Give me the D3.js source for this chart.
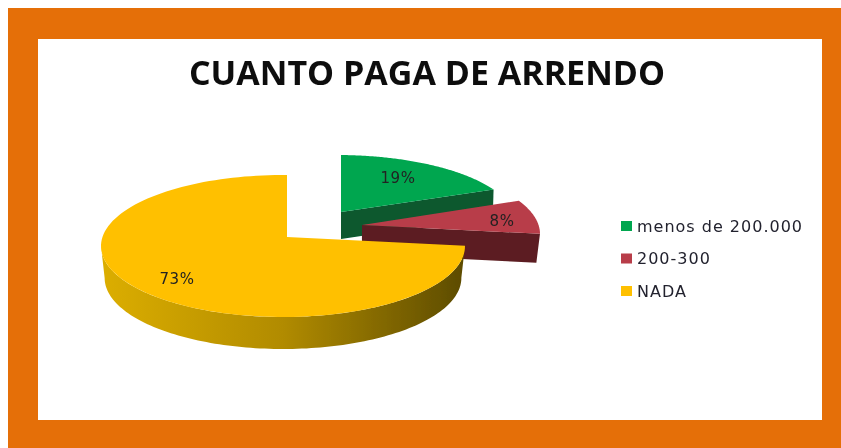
<!DOCTYPE html>
<html><head><meta charset="utf-8">
<script src="https://cdn.jsdelivr.net/npm/d3@7/dist/d3.min.js"></script>
<style>html,body{margin:0;padding:0;background:#fff;overflow:hidden}svg{display:block}</style>
</head><body><svg id="c" width="841" height="448"></svg>
<script>
const titleText = "CUANTO PAGA DE ARRENDO";
const categories = ["menos de 200.000", "200-300", "NADA"];
const values = [19, 8, 73];
const labels = ["19%", "8%", "73%"];
const topColors = ["#00a650", "#b83c48", "#ffc000"];
const sideColors = ["#07592f", "#5c1d20", "url(#goldSide)"];

const svg = d3.select("#c");
const defs = svg.append("defs");
defs.append("filter").attr("id","soft").append("feGaussianBlur").attr("stdDeviation",0.55);
const g0 = defs.append("linearGradient").attr("id","goldSide").attr("gradientUnits","userSpaceOnUse")
  .attr("x1",101).attr("x2",465).attr("y1",0).attr("y2",0);
[[0,"#dcae00"],[0.5,"#b18b00"],[1,"#5c4b00"]].forEach(([o,c])=>g0.append("stop").attr("offset",o).attr("stop-color",c));

// frame
svg.append("rect").attr("x",8).attr("y",8).attr("width",833).attr("height",440).attr("fill","#e56f08");
svg.append("rect").attr("x",38).attr("y",39).attr("width",784).attr("height",381).attr("fill","#fff");

const root = svg.append("g").attr("filter","url(#soft)");

root.append("text").text(titleText).attr("x",427).attr("y",85).attr("text-anchor","middle")
  .attr("font-family","'Open Sans','Liberation Sans',sans-serif").attr("font-weight",700)
  .attr("font-size",34).attr("fill","#111");

// per-slice placement of the exploded 3D pie: ellipse centre, wedge apex, radii, extrusion, inward lean
const place = [
  {cx:337, cy:221, ax:341, ay:212, rx:178, ry:66, d:27, lean:0.995, lx:398, ly:183},
  {cx:358, cy:234, ax:362, ay:225, rx:182, ry:71, d:29, lean:0.98, lx:502, ly:226},
  {cx:283, cy:246, ax:287, ay:237, rx:182, ry:71, d:32, lean:0.98, lx:177, ly:284}
];
const arcs = d3.pie().sort(null)(values);
const line = d3.line();

// intersect the perspective ray from the apex with the rim ellipse
function rim(p, a){
  const dx = Math.sin(a)*p.rx, dy = -Math.cos(a)*p.ry;
  const ox = (p.ax-p.cx)/p.rx, oy = (p.ay-p.cy)/p.ry, ux = dx/p.rx, uy = dy/p.ry;
  const A = ux*ux+uy*uy, B = 2*(ox*ux+oy*uy), C = ox*ox+oy*oy-1;
  const t = (-B+Math.sqrt(B*B-4*A*C))/(2*A);
  return [p.ax+dx*t, p.ay+dy*t];
}
function param(p, pt){ return Math.atan2((pt[0]-p.cx)/p.rx, -(pt[1]-p.cy)/p.ry); }
const onEll = (p,t)=>[p.cx+p.rx*Math.sin(t), p.cy-p.ry*Math.cos(t)];

arcs.forEach((s,i)=>{
  const p = place[i];
  const a0 = s.startAngle, a1 = s.endAngle;
  const rimPts = d3.range(0,121).map(k=>rim(p, a0+(a1-a0)*k/120));
  const apex = [p.ax,p.ay];
  const down = q=>[p.cx+(q[0]-p.cx)*p.lean, q[1]+p.d];
  if (a1 < Math.PI) {
    // cut face along the end radius, seen from the front
    const end = rimPts[rimPts.length-1];
    root.append("path").attr("d",line([apex,end,down(end),down(apex)])+"Z").attr("fill",sideColors[i]);
  } else {
    // outer wall: from the rim start round the front to the left extreme
    let t0 = param(p,rimPts[0]); if (t0<0) t0+=2*Math.PI;
    const ws = d3.range(0,121).map(k=>onEll(p,t0+(1.5*Math.PI-t0)*k/120));
    root.append("path").attr("d",line(ws.concat(ws.map(down).reverse()))+"Z").attr("fill",sideColors[i]);
  }
  root.append("path").attr("d",line([apex].concat(rimPts))+"Z").attr("fill",topColors[i]);
  root.append("text").text(labels[i]).attr("x",p.lx).attr("y",p.ly).attr("text-anchor","middle")
    .attr("font-family","'DejaVu Sans',sans-serif").attr("font-size",15).attr("letter-spacing",0.5).attr("fill","#222");
});

// legend
const legY = d3.scalePoint().domain(categories).range([226,291]);
categories.forEach((c,i)=>{
  root.append("rect").attr("x",621).attr("y",legY(c)-5).attr("width",11).attr("height",10).attr("fill",topColors[i]);
  root.append("text").text(c).attr("x",637).attr("y",legY(c)+5.5)
    .attr("font-family","'DejaVu Sans',sans-serif").attr("font-size",16).attr("letter-spacing",1).attr("fill","#22222e");
});
</script></body></html>
